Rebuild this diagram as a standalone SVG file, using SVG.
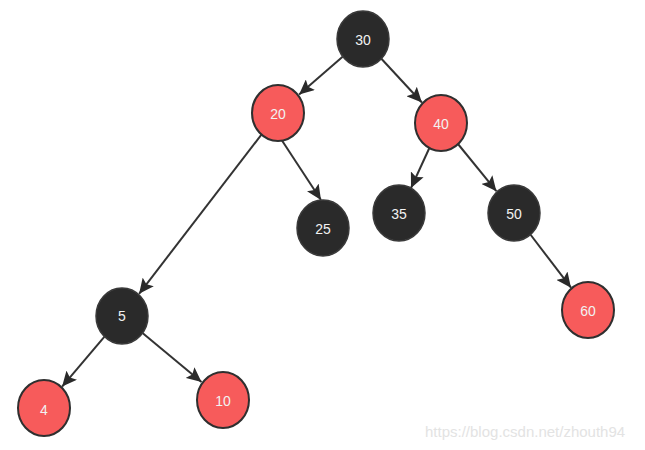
<svg xmlns="http://www.w3.org/2000/svg" width="645" height="450" viewBox="0 0 645 450">
<style>
.blk{fill:#2a2a2a;stroke:#3a3a3a;stroke-width:1.5}
.red{fill:#f75b5b;stroke:#2f2f2f;stroke-width:2}
.lbl{font-family:"Liberation Sans",Arial,sans-serif;font-size:14px;fill:#f2f2f2;text-anchor:middle;dominant-baseline:central}
.edge{stroke:#333;stroke-width:2;fill:none;marker-end:url(#arr)}
.wm{font-family:"Liberation Sans",Arial,sans-serif;font-size:15px;fill:#e3e3e3}
</style>
<defs>
<marker id="arr" markerUnits="userSpaceOnUse" markerWidth="18" markerHeight="14" refX="15" refY="7" orient="auto">
<path d="M0,0 L15,7 L0,14 L3,7 Z" fill="#2a2a2a"/>
</marker>
</defs>
<rect width="645" height="450" fill="#fff"/>
<g id="edges">
<line class="edge" x1="342.6" y1="56.7" x2="299.1" y2="94.6"/>
<line class="edge" x1="381.4" y1="58.8" x2="421.9" y2="102.5"/>
<line class="edge" x1="261.6" y1="134.4" x2="139.1" y2="293.8"/>
<line class="edge" x1="281" y1="139" x2="321" y2="200"/>
<line class="edge" x1="429.6" y1="147.5" x2="411" y2="188"/>
<line class="edge" x1="458" y1="144" x2="496.4" y2="191.2"/>
<line class="edge" x1="530.4" y1="234.5" x2="571" y2="287.7"/>
<line class="edge" x1="104.5" y1="336.6" x2="62.1" y2="386.6"/>
<line class="edge" x1="142.8" y1="333.3" x2="201.5" y2="382.1"/>
</g>
<g id="n30"><ellipse class="blk" cx="363" cy="39" rx="26" ry="28"/><text class="lbl" x="363" y="40">30</text></g>
<g id="n20"><ellipse class="red" cx="278" cy="113" rx="26" ry="28"/><text class="lbl" x="278" y="114">20</text></g>
<g id="n40"><ellipse class="red" cx="441" cy="123" rx="26" ry="28"/><text class="lbl" x="441" y="124">40</text></g>
<g id="n25"><ellipse class="blk" cx="323" cy="228" rx="26" ry="28"/><text class="lbl" x="323" y="229">25</text></g>
<g id="n35"><ellipse class="blk" cx="399" cy="213" rx="26" ry="28"/><text class="lbl" x="399" y="214">35</text></g>
<g id="n50"><ellipse class="blk" cx="514" cy="213" rx="26" ry="28"/><text class="lbl" x="514" y="214">50</text></g>
<g id="n60"><ellipse class="red" cx="588" cy="310" rx="26" ry="28"/><text class="lbl" x="588" y="311">60</text></g>
<g id="n5"><ellipse class="blk" cx="122" cy="316" rx="26" ry="28"/><text class="lbl" x="122" y="316">5</text></g>
<g id="n4"><ellipse class="red" cx="44" cy="408" rx="26" ry="28"/><text class="lbl" x="44" y="410">4</text></g>
<g id="n10"><ellipse class="red" cx="223" cy="400" rx="26" ry="28"/><text class="lbl" x="223" y="401">10</text></g>
<text class="wm" x="425" y="437">https://blog.csdn.net/zhouth94</text>
</svg>
